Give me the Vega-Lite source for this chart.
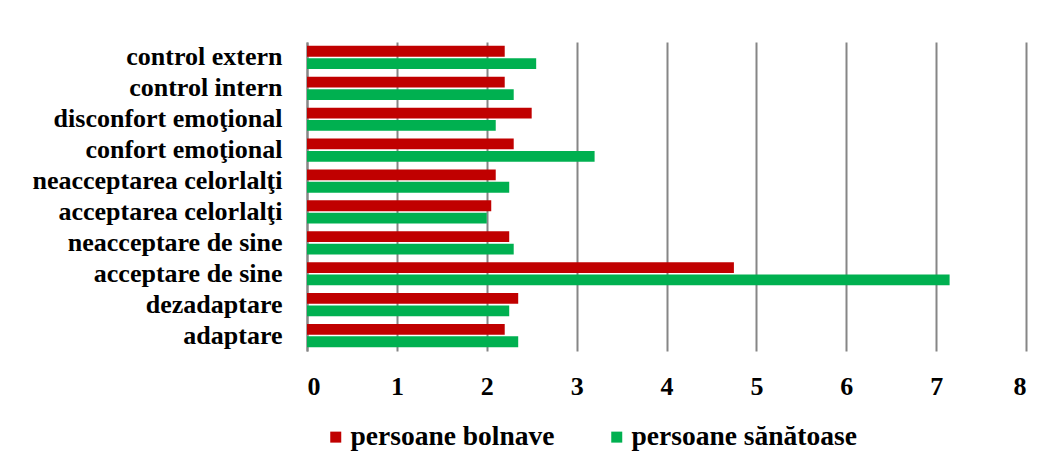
{
  "$schema": "https://vega.github.io/schema/vega-lite/v6.json",
  "width": 719,
  "height": 309,
  "autosize": "none",
  "padding": {"left": 307, "top": 42, "right": 23, "bottom": 118},
  "background": "white",
  "data": {
    "values": [
      {"cat": "control extern", "grup": "persoane bolnave", "val": 2.2},
      {"cat": "control extern", "grup": "persoane sănătoase", "val": 2.55},
      {"cat": "control intern", "grup": "persoane bolnave", "val": 2.2},
      {"cat": "control intern", "grup": "persoane sănătoase", "val": 2.3},
      {"cat": "disconfort emoţional", "grup": "persoane bolnave", "val": 2.5},
      {"cat": "disconfort emoţional", "grup": "persoane sănătoase", "val": 2.1},
      {"cat": "confort emoţional", "grup": "persoane bolnave", "val": 2.3},
      {"cat": "confort emoţional", "grup": "persoane sănătoase", "val": 3.2},
      {"cat": "neacceptarea celorlalţi", "grup": "persoane bolnave", "val": 2.1},
      {"cat": "neacceptarea celorlalţi", "grup": "persoane sănătoase", "val": 2.25},
      {"cat": "acceptarea celorlalţi", "grup": "persoane bolnave", "val": 2.05},
      {"cat": "acceptarea celorlalţi", "grup": "persoane sănătoase", "val": 2.0},
      {"cat": "neacceptare de sine", "grup": "persoane bolnave", "val": 2.25},
      {"cat": "neacceptare de sine", "grup": "persoane sănătoase", "val": 2.3},
      {"cat": "acceptare de sine", "grup": "persoane bolnave", "val": 4.75},
      {"cat": "acceptare de sine", "grup": "persoane sănătoase", "val": 7.15},
      {"cat": "dezadaptare", "grup": "persoane bolnave", "val": 2.35},
      {"cat": "dezadaptare", "grup": "persoane sănătoase", "val": 2.25},
      {"cat": "adaptare", "grup": "persoane bolnave", "val": 2.2},
      {"cat": "adaptare", "grup": "persoane sănătoase", "val": 2.35}
    ]
  },
  "mark": {"type": "bar"},
  "encoding": {
    "y": {
      "field": "cat",
      "type": "nominal",
      "sort": null,
      "title": null,
      "scale": {"paddingInner": 0.25, "paddingOuter": 0.125},
      "axis": {
        "labelFont": "Liberation Serif",
        "labelFontWeight": "bold",
        "labelFontSize": 26,
        "labelColor": "black",
        "labelPadding": 25,
        "ticks": false,
        "domainColor": "#868686",
        "domainWidth": 2,
        "grid": false,
        "labelLimit": 400
      }
    },
    "x": {
      "field": "val",
      "type": "quantitative",
      "title": null,
      "scale": {"domain": [0, 8], "nice": false},
      "axis": {
        "values": [0, 1, 2, 3, 4, 5, 6, 7, 8],
        "labelFont": "Liberation Serif",
        "labelFontWeight": "bold",
        "labelFontSize": 26,
        "labelColor": "black",
        "labelPadding": 22,
        "ticks": false,
        "domain": false,
        "grid": true,
        "gridColor": "#868686",
        "gridWidth": 2,
        "gridOpacity": 1
      }
    },
    "yOffset": {
      "field": "grup",
      "type": "nominal",
      "sort": ["persoane bolnave", "persoane sănătoase"],
      "scale": {"paddingInner": 0.13}
    },
    "color": {
      "field": "grup",
      "type": "nominal",
      "sort": ["persoane bolnave", "persoane sănătoase"],
      "scale": {"domain": ["persoane bolnave", "persoane sănătoase"], "range": ["#C00000", "#00B050"]},
      "legend": {
        "title": null,
        "orient": "none",
        "direction": "horizontal",
        "legendX": 15,
        "legendY": 381,
        "symbolType": "square",
        "symbolSize": 121,
        "symbolStrokeWidth": 0,
        "symbolOpacity": 1,
        "labelFont": "Liberation Serif",
        "labelFontWeight": "bold",
        "labelFontSize": 27.5,
        "labelColor": "black",
        "labelOffset": 1,
        "columnPadding": 48,
        "labelLimit": 400
      }
    }
  },
  "config": {"view": {"stroke": null}}
}
